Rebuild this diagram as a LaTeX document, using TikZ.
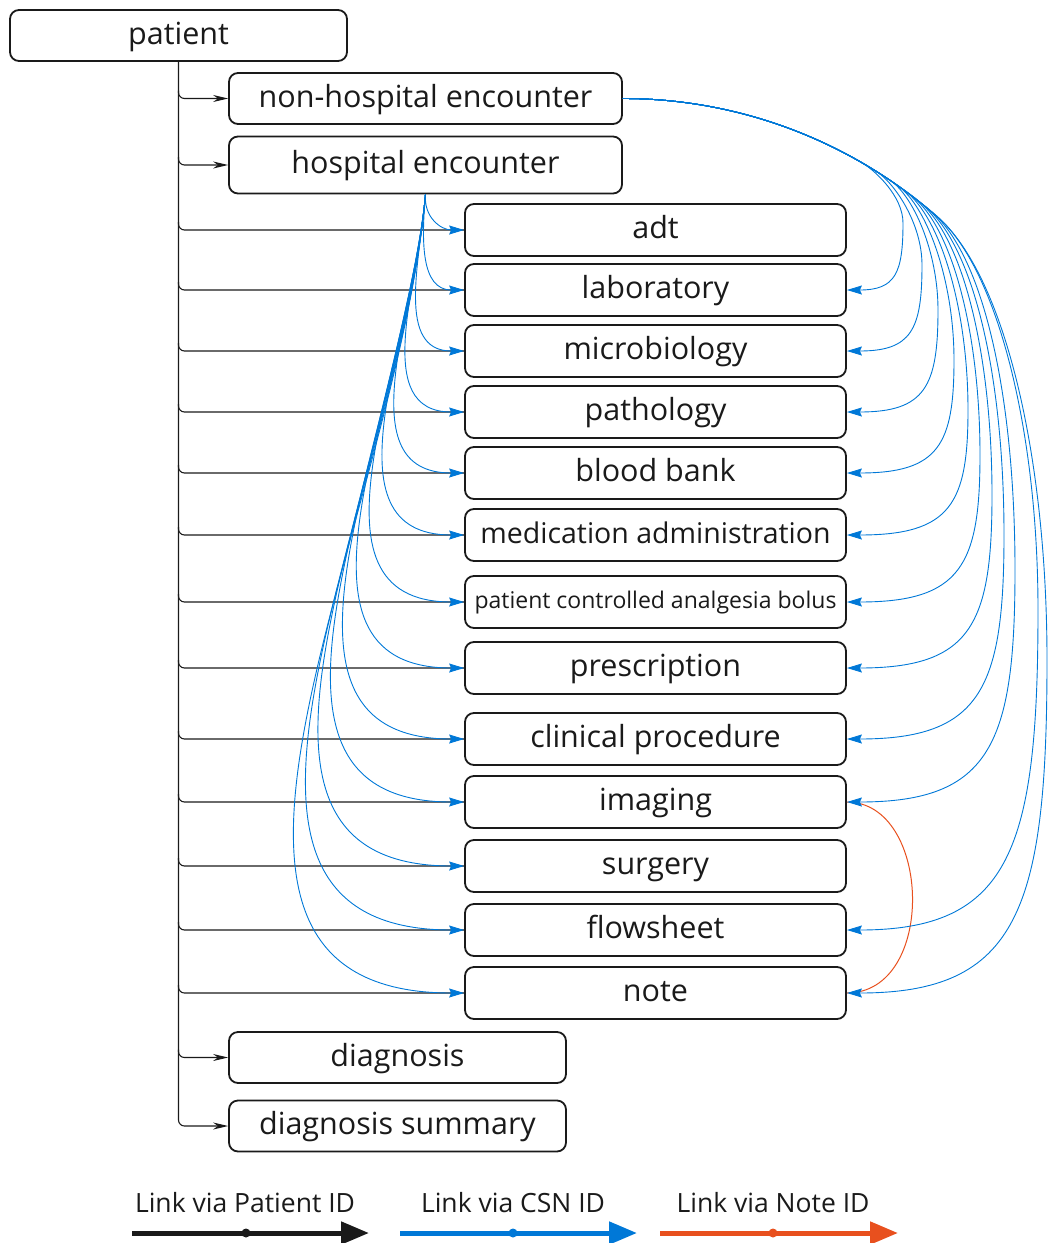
\documentclass[tikz,border=0pt]{standalone}
\usepackage{fontspec}
\setmainfont{Open Sans}
\usetikzlibrary{arrows.meta}
\definecolor{csnblue}{RGB}{0,120,215}
\definecolor{notered}{RGB}{232,80,30}
\definecolor{ink}{RGB}{26,26,26}
\begin{document}
\begin{tikzpicture}[x=1pt,y=-1pt,
  box/.style={draw=ink, line width=1.8pt, rounded corners=9pt, inner sep=0pt, text=ink,
    font=\fontsize{30.5}{32}\selectfont, text height=21pt, text depth=4pt, minimum height=51pt},
  mid/.style={box, minimum width=381pt, minimum height=52pt},
  pid/.style={draw=ink, line width=1.1pt, rounded corners=6pt},
  pidarr/.style={pid, -{Stealth[length=15pt,width=7pt]}},
  csn/.style={draw=csnblue, line width=0.9pt, -{Stealth[length=15pt,width=9pt,inset=2pt]}},
  legtext/.style={font=\fontsize{26.5}{28}\selectfont, text=ink, inner sep=0pt},
  legdot/.style={circle, inner sep=0pt, minimum size=9pt},
]
\useasboundingbox (0,0) rectangle (1049,1243);

% nodes
\node[box, minimum width=337pt] (patient) at (178.5,35.5) {patient};
\node[box, minimum width=393pt] (neh) at (425.5,98.5) {non-hospital encounter};
\node[box, minimum width=393pt, minimum height=57pt] (he) at (425.5,165) {hospital encounter};
\foreach \n/\y/\t in {adt/230/adt, lab/290/laboratory, micro/351/microbiology,
  path/412/pathology, blood/473/blood bank, presc/668/prescription,
  clin/739/clinical procedure, imaging/802/imaging, surgery/866/surgery,
  flowsheet/930/flowsheet, note/993/note}
  \node[mid] (\n) at (655.5,\y) {\t};
\node[mid, font=\fontsize{28.5}{30}\selectfont] (med) at (655.5,535) {medication administration};
\node[mid, font=\fontsize{23}{25}\selectfont, text height=17pt, text depth=4pt] (pca) at (655.5,602) {patient controlled analgesia bolus};
\node[box, minimum width=337pt] (dx) at (397.5,1057.5) {diagnosis};
\node[box, minimum width=337pt] (dxs) at (397.5,1126) {diagnosis summary};

% patient ID links: one trunk, branches leaving it
\draw[pidarr] (patient.south) |- (dxs.west);
\foreach \n in {neh,he,dx}
  \draw[pidarr] ([yshift=8pt]patient.south |- \n.west) |- (\n.west);
\foreach \n in {adt,lab,micro,path,blood,med,pca,presc,clin,imaging,surgery,flowsheet,note}
  \draw[pid] ([yshift=8pt]patient.south |- \n.west) |- (\n.west);

% note ID link
\draw[notered, line width=1pt] (imaging.east) .. controls +(85,0) and +(90,0) .. (note.east);

% CSN links from hospital encounter
\foreach \n/\k in {adt/23, lab/44, micro/68, path/93, blood/118, med/144, pca/172,
  presc/200, clin/230, imaging/256, surgery/283, flowsheet/310, note/336}
  \draw[csn] (he.south) .. controls +({-0.087*\k},{0.996*\k}) and +(-\k,0) .. (\n.west);

% CSN links from non-hospital encounter: shared arc, then each peels off
\foreach \n/\ph/\xa/\ya/\yt in {lab/30/903/223/290, micro/32/922/265/351, path/34/938/310/412,
  blood/35/954/360/473, med/36/968/410/535, pca/37/980/455/602, presc/38/992/495/668,
  clin/39/1004/535/739, imaging/40/1015/570/802, flowsheet/41/1038/610/930, note/41/1047/660/993}
{
  \pgfmathsetmacro{\px}{622+480*sin(\ph)}
  \pgfmathsetmacro{\py}{578.5-480*cos(\ph)}
  \pgfmathsetmacro{\lz}{4/3*tan(\ph/4)*480}
  \pgfmathsetmacro{\tx}{cos(\ph)}
  \pgfmathsetmacro{\ty}{sin(\ph)}
  \pgfmathsetmacro{\la}{2*veclen((\xa-\px)/10,(\ya-\py)/10)}
  \pgfmathsetmacro{\lb}{0.45*(\ya-\py)}
  \pgfmathsetmacro{\lc}{0.75*(\yt-\ya)}
  \pgfmathsetmacro{\ld}{0.85*(\xa-846)}
  \draw[csn] (neh.east) .. controls +(\lz,0) and +({-\lz*\tx},{-\lz*\ty}) .. (\px,\py)
    .. controls +({\la*\tx},{\la*\ty}) and +(0,-\lb) .. (\xa,\ya)
    .. controls +(0,\lc) and +(\ld,0) .. (\n.east);
}

% legend
\node[legtext] (lg1) at (245,1203) {Link via Patient ID};
\node[legtext] (lg2) at (513,1203) {Link via CSN ID};
\node[legtext] (lg3) at (773,1203) {Link via Note ID};
\coordinate (a1s) at (132,1233); \coordinate (a1e) at (369,1233);
\coordinate (a2s) at (400,1233); \coordinate (a2e) at (637,1233);
\coordinate (a3s) at (660,1233); \coordinate (a3e) at (898,1233);
\draw[ink, line width=5pt, -{Triangle[length=28pt,width=22pt]}] (a1s) -- (a1e);
\draw[csnblue, line width=5pt, -{Triangle[length=28pt,width=22pt]}] (a2s) -- (a2e);
\draw[notered, line width=5pt, -{Triangle[length=28pt,width=22pt]}] (a3s) -- (a3e);
\node[legdot, fill=ink] (d1) at (246,1233) {};
\node[legdot, fill=csnblue] (d2) at (513,1233) {};
\node[legdot, fill=notered] (d3) at (773,1233) {};
\end{tikzpicture}
\end{document}
